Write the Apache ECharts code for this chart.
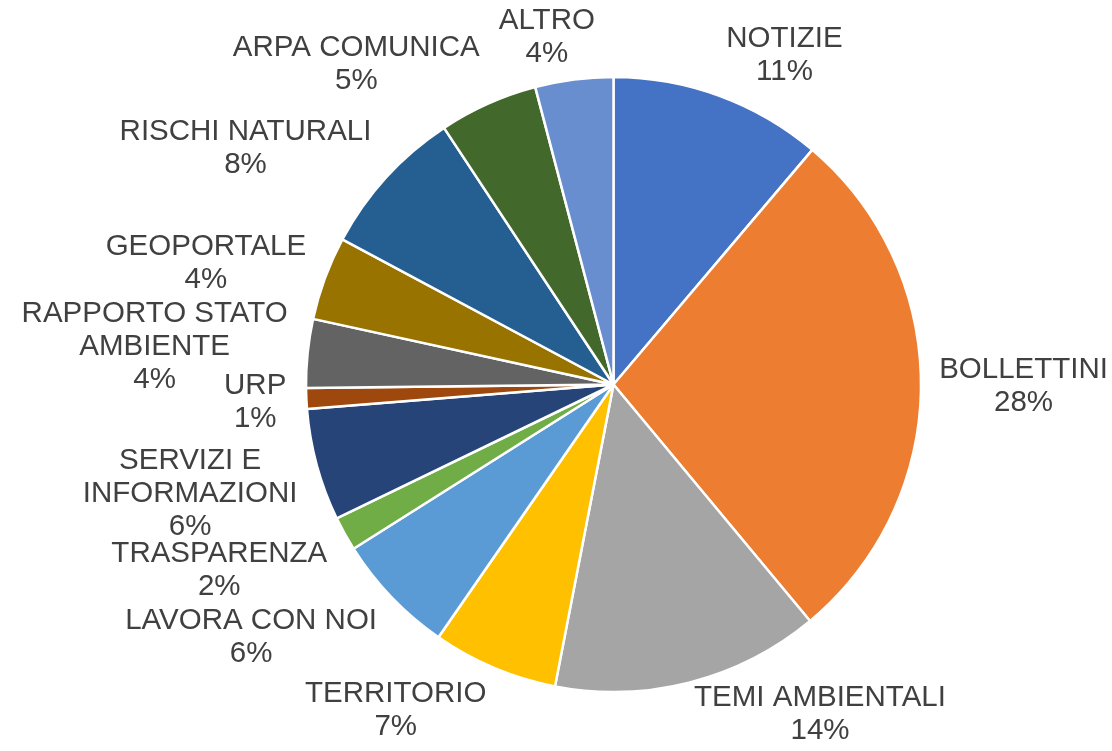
<!DOCTYPE html>
<html><head><meta charset="utf-8">
<script src="https://cdn.jsdelivr.net/npm/echarts@6/dist/echarts.min.js"></script>
<style>html,body{margin:0;padding:0;background:#fff}#c{width:1112px;height:751px}</style>
</head><body><div id="c"></div>
<script>
const categories = ['NOTIZIE','BOLLETTINI','TEMI AMBIENTALI','TERRITORIO','LAVORA CON NOI','TRASPARENZA','SERVIZI E\nINFORMAZIONI','URP','RAPPORTO STATO\nAMBIENTE','GEOPORTALE','RISCHI NATURALI','ARPA COMUNICA','ALTRO'];
const values = [11.2, 27.8, 14.1, 6.6, 6.4, 1.8, 5.9, 1.1, 3.6, 4.4, 7.9, 5.2, 4.1];
const colors = ['#4472C4','#ED7D31','#A5A5A5','#FFC000','#5B9BD5','#70AD47','#264478','#9E480E','#636363','#997300','#255E91','#43682B','#698ED0'];

const chart = echarts.init(document.getElementById('c'), null, {renderer:'canvas'});
const W = chart.getWidth(), H = chart.getHeight();
const CX = 613.5, CY = 384.5, R = 307.5;
const total = values.reduce((a,b)=>a+b,0);
const mids = []; let acc = 0;
values.forEach(v => { mids.push((acc + v/2) / total * 2 * Math.PI); acc += v; });
function clamp(t){ return Math.max(-1, Math.min(1, t)); }

chart.setOption({
  animation: false,
  series: [{
    type: 'pie',
    center: [CX, CY],
    radius: R,
    startAngle: 90,
    clockwise: true,
    avoidLabelOverlap: false,
    data: categories.map((c,i)=>({name:c, value:values[i], itemStyle:{color:colors[i]}})),
    itemStyle: {borderColor:'#ffffff', borderWidth:2.5},
    label: {
      show: true,
      position: 'outside',
      formatter: p => p.name + '\n' + Math.round(p.percent) + '%',
      fontFamily: '"Liberation Sans", Arial, sans-serif',
      fontSize: 29.5,
      lineHeight: 33,
      color: '#404040',
      align: 'center',
      overflow: 'none'
    },
    labelLine: {show:false, length:0, length2:0},
    emphasis: {disabled:true},
    labelLayout: function(p){
      const a = mids[p.dataIndex];
      const ux = Math.sin(a), uy = -Math.cos(a);
      const w = p.labelRect.width, h = p.labelRect.height;
      const gx = 20, gy = 10;
      let x = CX + ux*(R+gx) + w/2*clamp(ux/0.25);
      let y = CY + uy*(R+gy) + h/2*(uy < 0 ? uy : clamp(uy/0.5));
      x = Math.max(w/2+4, Math.min(W-w/2-4, x));
      y = Math.max(h/2+2, Math.min(H-h/2-4, y));
      return {x:x, y:y, align:'center', verticalAlign:'middle'};
    }
  }]
});
</script></body></html>
